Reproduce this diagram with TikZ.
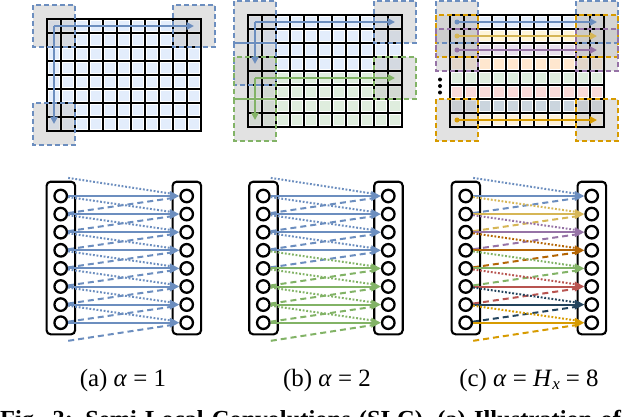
\documentclass[tikz,border=0pt]{standalone}
\usepackage{fontspec}
\setmainfont{Liberation Serif}
\usetikzlibrary{arrows.meta}
\definecolor{cB}{HTML}{6C8EBF}\definecolor{cBf}{HTML}{DAE8FC}
\definecolor{cG}{HTML}{82B366}\definecolor{cGf}{HTML}{D5E8D4}
\definecolor{cY}{HTML}{D6B656}\definecolor{cYf}{HTML}{FFF2CC}
\definecolor{cP}{HTML}{9673A6}\definecolor{cPf}{HTML}{E1D5E7}
\definecolor{cO}{HTML}{B46504}\definecolor{cOf}{HTML}{FFE0C0}
\definecolor{cR}{HTML}{B85450}\definecolor{cRf}{HTML}{F8CECC}
\definecolor{cN}{HTML}{23445D}\definecolor{cNf}{HTML}{BAC8D3}
\definecolor{cA}{HTML}{D79B00}\definecolor{cAf}{HTML}{FDEBCB}
\def\cs{14}
\tikzset{
  gline/.style={line width=2bp, black},
  gbox/.style={fill=black!22, fill opacity=0.5},
  gboxline/.style={line width=2bp, dash pattern=on 5bp off 3bp},
  garr/.style={line width=2bp, -{Triangle[length=7.5bp,width=7.5bp]}},
  neuron/.style={circle, draw, line width=2.3bp, minimum size=12.5bp, inner sep=0pt},
  layerbox/.style={draw, line width=2.1bp, rounded corners=4bp, minimum width=28.5bp, minimum height=152.6bp, inner sep=0pt},
  conn/.style={line width=2bp, -{Triangle[length=9.5bp,width=9.5bp]}},
  dotc/.style={line width=2bp, dash pattern=on 1.8bp off 1.8bp, shorten >=7bp},
  dashc/.style={line width=2bp, dash pattern=on 6bp off 4bp, shorten >=7bp},
  captxt/.style={font=\fontsize{25}{30}\selectfont, inner sep=0pt, anchor=base}
}
% #1 gx, #2 gy, #3 col, #4 row
\newcommand\slcBoxFill[4]{\fill[gbox] ({#1+(#3-1)*\cs},{#2+(#4-1)*\cs}) rectangle ++({3*\cs},{3*\cs});}
\newcommand\slcBoxLine[5]{\draw[gboxline,#5] ({#1+(#3-1)*\cs},{#2+(#4-1)*\cs}) rectangle ++({3*\cs},{3*\cs});}
\newcommand\slcGrid[2]{%
  \foreach \i in {0,...,11}{\draw[gline] ({#1+\i*\cs},#2) -- ++(0,{8*\cs});}
  \foreach \j in {0,...,8}{\draw[gline] (#1,{#2+\j*\cs}) -- ++({11*\cs},0);}
  \draw[line width=2bp] (#1,#2) rectangle ++({11*\cs},{8*\cs});}
\newcommand\slcRow[4]{% gx gy row color
  \foreach \c in {0,...,10}{\fill[#4, fill opacity=0.75] ({#1+\c*\cs+2},{#2+#3*\cs+2}) rectangle ++({\cs-4},{\cs-4});}}
\newcommand\slcHArr[4]{\draw[garr,#4] ({#1+0.5*\cs},{#2+(#3+0.5)*\cs}) -- ++({10*\cs},0);}
\newcommand\slcVArr[5]{\draw[garr,#5] ({#1+0.5*\cs},{#2+(#3+0.5)*\cs}) -- ({#1+0.5*\cs},{#2+(#4+0.5)*\cs});}
% bottom network: #1 prefix, #2 xL, #3 xR
\newcommand\slcNet[3]{%
  \node[layerbox] (#1Lbox) at ({#2+0.15},258) {};
  \node[layerbox] (#1Rbox) at ({#3+0.15},258) {};
  \foreach \i in {0,...,7}{
    \node[neuron] (#1L\i) at (#2,{196+18.1*\i}) {};
    \node[neuron] (#1R\i) at (#3,{196+18.1*\i}) {};
  }
  \coordinate (#1L-1) at ({#2+7.5},177.9);
  \coordinate (#1L8) at ({#2+7.5},340.8);}
\newcommand\slcConn[3]{% prefix, row, colour
  \pgfmathtruncatemacro\slcp{#2-1}\pgfmathtruncatemacro\slcn{#2+1}
  \draw[dotc,#3] (#1L\slcp) -- (#1R#2);
  \draw[dashc,#3] (#1L\slcn) -- (#1R#2);
  \draw[conn,#3] (#1L#2) -- (#1R#2);}
\begin{document}
\begin{tikzpicture}[x=1bp,y=-1bp]
\useasboundingbox (0,0) rectangle (640,416);
\fill[white] (0,0) rectangle (640,416);
% ---------- (a) grid ----------
\foreach \r in {0,...,7}{\slcRow{47}{19}{\r}{cBf}}
\slcBoxFill{47}{19}{0}{0}\slcBoxFill{47}{19}{10}{0}\slcBoxFill{47}{19}{0}{7}
\slcGrid{47}{19}
\slcBoxLine{47}{19}{0}{0}{cB}\slcBoxLine{47}{19}{10}{0}{cB}\slcBoxLine{47}{19}{0}{7}{cB}
\slcHArr{47}{19}{0}{cB}
\slcVArr{47}{19}{0}{7}{cB}
% ---------- (b) grid ----------
\foreach \r in {0,...,3}{\slcRow{248}{15}{\r}{cBf}}
\foreach \r in {4,...,7}{\slcRow{248}{15}{\r}{cGf}}
\slcBoxFill{248}{15}{0}{0}\slcBoxFill{248}{15}{10}{0}\slcBoxFill{248}{15}{0}{3}
\slcBoxFill{248}{15}{0}{4}\slcBoxFill{248}{15}{10}{4}\slcBoxFill{248}{15}{0}{7}
\slcGrid{248}{15}
\slcBoxLine{248}{15}{0}{0}{cB}\slcBoxLine{248}{15}{10}{0}{cB}\slcBoxLine{248}{15}{0}{3}{cB}
\slcBoxLine{248}{15}{0}{4}{cG}\slcBoxLine{248}{15}{10}{4}{cG}\slcBoxLine{248}{15}{0}{7}{cG}
\slcHArr{248}{15}{0}{cB}\slcVArr{248}{15}{0}{3}{cB}
\slcHArr{248}{15}{4}{cG}\slcVArr{248}{15}{4}{7}{cG}
% ---------- (c) grid ----------
\foreach \r/\f in {0/cBf,1/cYf,2/cPf,3/cOf,4/cGf,5/cRf,6/cNf,7/cAf}{\slcRow{450}{15}{\r}{\f}}
\foreach \r in {0,1,2,7}{\slcBoxFill{450}{15}{0}{\r}\slcBoxFill{450}{15}{10}{\r}}
\slcGrid{450}{15}
\foreach \r/\k in {0/cB,1/cA,2/cP,7/cA}{\slcBoxLine{450}{15}{0}{\r}{\k}\slcBoxLine{450}{15}{10}{\r}{\k}}
\foreach \r/\k in {0/cB,1/cY,2/cP,7/cA}{
  \slcHArr{450}{15}{\r}{\k}
  \fill[\k] ({450+0.5*\cs},{15+(\r+0.5)*\cs}) circle (2.5);}
\foreach \yy in {79.5,86,92.5}{\fill (440,\yy) circle (2);}
% ---------- bottom networks ----------
\slcNet{a}{60.7}{186.7}
\foreach \i in {0,...,7}{\slcConn{a}{\i}{cB}}
\slcNet{b}{263.3}{388.3}
\foreach \i/\k in {0/cB,1/cB,2/cB,3/cB,4/cG,5/cG,6/cG,7/cG}{\slcConn{b}{\i}{\k}}
\slcNet{c}{465.7}{591.7}
\foreach \i/\k in {0/cB,1/cY,2/cP,3/cO,4/cG,5/cR,6/cN,7/cA}{\slcConn{c}{\i}{\k}}
% ---------- captions ----------
\node[captxt] (capa) at (123,386) {(a) \textit{α}\hspace{0.25em}=\hspace{0.25em}1};
\node[captxt] (capb) at (327,386) {(b) \textit{α}\hspace{0.25em}=\hspace{0.25em}2};
\node[captxt] (capc) at (529,386) {(c) \textit{α}\hspace{0.25em}=\hspace{0.25em}\textit{H}\raisebox{-4pt}{\fontsize{17}{17}\selectfont\textit{x}}\hspace{0.25em}=\hspace{0.25em}8};
\begin{scope}
\clip (0,0) rectangle (640,416);
\node[anchor=base west, inner sep=0pt, text width=642bp, font=\bfseries\fontsize{24.6}{28}\selectfont] (figcap) at (0,427) {\parfillskip=0pt Fig. 3: Semi-Local Convolutions (SLC). (a) Illustration of\par};
\end{scope}
\end{tikzpicture}
\end{document}
